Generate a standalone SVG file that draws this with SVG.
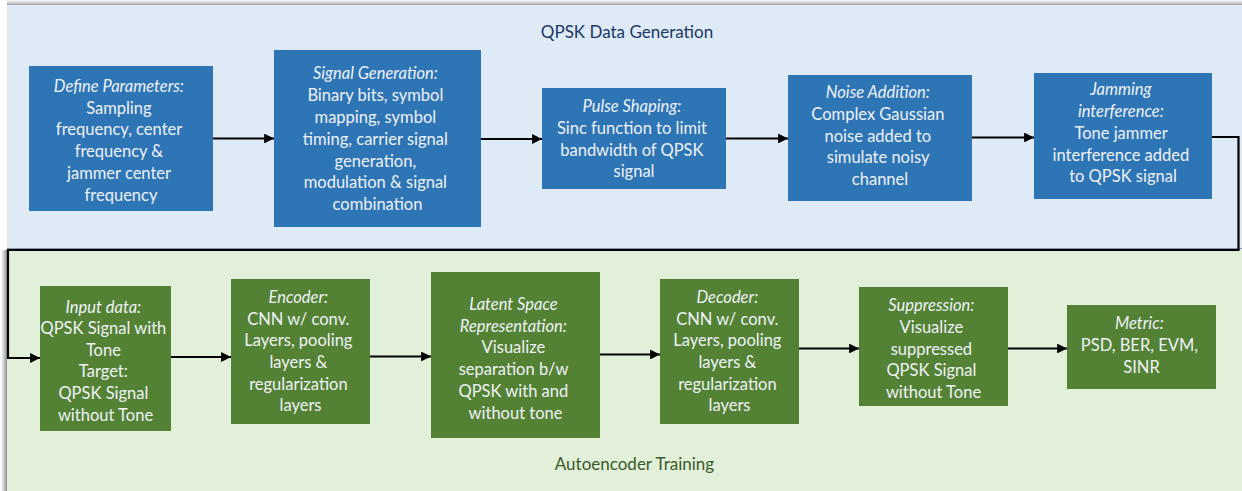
<svg xmlns="http://www.w3.org/2000/svg" width="1242" height="491" viewBox="0 0 1242 491">
  <defs>
    <linearGradient id="topShade" x1="0" y1="0" x2="0" y2="1">
      <stop offset="0" stop-color="#ffffff"/>
      <stop offset="0.5" stop-color="#c8c8c8"/>
      <stop offset="1" stop-color="#8c8c8c"/>
    </linearGradient>
    <linearGradient id="leftShade" x1="0" y1="0" x2="1" y2="0">
      <stop offset="0" stop-color="#ffffff"/>
      <stop offset="0.5" stop-color="#c8c8c8"/>
      <stop offset="1" stop-color="#8c8c8c"/>
    </linearGradient>
    <marker id="arrow" viewBox="0 0 10 10" refX="10" refY="5" markerWidth="4.5" markerHeight="4.5" markerUnits="strokeWidth" orient="auto">
      <path d="M0,0 L10,5 L0,10 z" fill="#000"/>
    </marker>
  </defs>
  <style>
    .blue { fill: #2E75B6; }
    .green { fill: #548235; }
    .lbl { font-family: Lato, "Liberation Sans", sans-serif; font-size: 16.5px; fill: #EEF2F6; text-anchor: middle; }
    .it { font-style: italic; }
    .title { font-family: Lato, "Liberation Sans", sans-serif; font-size: 17px; text-anchor: middle; }
    .wire { fill: none; stroke: #000; stroke-width: 2.2; }
  </style>

  <rect x="0" y="0" width="1242" height="491" fill="#ffffff"/>

  <!-- panel backgrounds -->
  <g id="panel-generation">
    <rect x="7" y="0" width="1235" height="6" fill="url(#topShade)"/>
    <rect x="7" y="5" width="1235" height="245" fill="#DEEBF7"/>
    <line x1="7" y1="248.5" x2="1242" y2="248.5" stroke="#8497B0" stroke-width="1"/>
    <text class="title" x="627" y="38" fill="#203864">QPSK Data Generation</text>
  </g>
  <g id="panel-training">
    <rect x="1" y="250" width="6" height="241" fill="url(#leftShade)"/>
    <rect x="7" y="250" width="1235" height="241" fill="#E2F0D9"/>
    <text class="title" x="634.5" y="470" fill="#3A5A2A">Autoencoder Training</text>
  </g>

  <!-- connectors -->
  <g id="connectors">
    <line class="wire" x1="213" y1="138.5" x2="274" y2="138.5" marker-end="url(#arrow)"/>
    <line class="wire" x1="481" y1="139" x2="542" y2="139" marker-end="url(#arrow)"/>
    <line class="wire" x1="726" y1="138.5" x2="788" y2="138.5" marker-end="url(#arrow)"/>
    <line class="wire" x1="972" y1="137.5" x2="1034" y2="137.5" marker-end="url(#arrow)"/>
    <polyline class="wire" points="1212,137 1238.5,137 1238.5,250 8,250 8,358 40,358" marker-end="url(#arrow)"/>
    <line class="wire" x1="171" y1="357" x2="231" y2="357" marker-end="url(#arrow)"/>
    <line class="wire" x1="370" y1="356.5" x2="431" y2="356.5" marker-end="url(#arrow)"/>
    <line class="wire" x1="600" y1="354.5" x2="660" y2="354.5" marker-end="url(#arrow)"/>
    <line class="wire" x1="799" y1="348.5" x2="859" y2="348.5" marker-end="url(#arrow)"/>
    <line class="wire" x1="1008" y1="348.5" x2="1067" y2="348.5" marker-end="url(#arrow)"/>
  </g>

  <!-- generation stages -->
  <g id="define-parameters">
    <rect class="blue" x="29" y="66" width="184" height="145"/>
    <text class="lbl" x="121">
      <tspan class="it" x="121" y="92">Define Parameters:</tspan>
      <tspan x="121" y="113.5">Sampling</tspan>
      <tspan x="121" y="135">frequency, center</tspan>
      <tspan x="121" y="157">frequency &amp;</tspan>
      <tspan x="121" y="179">jammer center</tspan>
      <tspan x="121" y="200.5">frequency</tspan>
    </text>
  </g>
  <g id="signal-generation">
    <rect class="blue" x="274" y="50" width="207" height="177"/>
    <text class="lbl" x="377.5">
      <tspan class="it" x="377.5" y="79">Signal Generation:</tspan>
      <tspan x="377.5" y="101">Binary bits, symbol</tspan>
      <tspan x="377.5" y="123">mapping, symbol</tspan>
      <tspan x="377.5" y="144.5">timing, carrier signal</tspan>
      <tspan x="377.5" y="166.5">generation,</tspan>
      <tspan x="377.5" y="188">modulation &amp; signal</tspan>
      <tspan x="377.5" y="210">combination</tspan>
    </text>
  </g>
  <g id="pulse-shaping">
    <rect class="blue" x="542" y="88" width="184" height="101"/>
    <text class="lbl" x="634">
      <tspan class="it" x="634" y="112">Pulse Shaping:</tspan>
      <tspan x="634" y="133.5">Sinc function to limit</tspan>
      <tspan x="634" y="155.5">bandwidth of QPSK</tspan>
      <tspan x="634" y="177">signal</tspan>
    </text>
  </g>
  <g id="noise-addition">
    <rect class="blue" x="788" y="75" width="184" height="126"/>
    <text class="lbl" x="880">
      <tspan class="it" x="880" y="98">Noise Addition:</tspan>
      <tspan x="880" y="120">Complex Gaussian</tspan>
      <tspan x="880" y="141.5">noise added to</tspan>
      <tspan x="880" y="163">simulate noisy</tspan>
      <tspan x="880" y="185">channel</tspan>
    </text>
  </g>
  <g id="jamming-interference">
    <rect class="blue" x="1034" y="73" width="178" height="126"/>
    <text class="lbl" x="1123">
      <tspan class="it" x="1123" y="95">Jamming</tspan>
      <tspan class="it" x="1123" y="117">interference:</tspan>
      <tspan x="1123" y="138.5">Tone jammer</tspan>
      <tspan x="1123" y="160.5">interference added</tspan>
      <tspan x="1123" y="182">to QPSK signal</tspan>
    </text>
  </g>

  <!-- training stages -->
  <g id="input-data">
    <rect class="green" x="40" y="286" width="131" height="145"/>
    <text class="lbl" x="105.5">
      <tspan class="it" x="105.5" y="312.5">Input data:</tspan>
      <tspan x="105.5" y="334">QPSK Signal with</tspan>
      <tspan x="105.5" y="355.5">Tone</tspan>
      <tspan x="105.5" y="377">Target:</tspan>
      <tspan x="105.5" y="398.5">QPSK Signal</tspan>
      <tspan x="105.5" y="420.5">without Tone</tspan>
    </text>
  </g>
  <g id="encoder">
    <rect class="green" x="231" y="279" width="139" height="145"/>
    <text class="lbl" x="300.5">
      <tspan class="it" x="300.5" y="302.5">Encoder:</tspan>
      <tspan x="300.5" y="324.5">CNN w/ conv.</tspan>
      <tspan x="300.5" y="346">Layers, pooling</tspan>
      <tspan x="300.5" y="367.5">layers &amp;</tspan>
      <tspan x="300.5" y="389.5">regularization</tspan>
      <tspan x="300.5" y="411">layers</tspan>
    </text>
  </g>
  <g id="latent-space">
    <rect class="green" x="431" y="272" width="169" height="166"/>
    <text class="lbl" x="515.5">
      <tspan class="it" x="515.5" y="309.5">Latent Space</tspan>
      <tspan class="it" x="515.5" y="331.5">Representation:</tspan>
      <tspan x="515.5" y="353">Visualize</tspan>
      <tspan x="515.5" y="375">separation b/w</tspan>
      <tspan x="515.5" y="396.5">QPSK with and</tspan>
      <tspan x="515.5" y="418.5">without tone</tspan>
    </text>
  </g>
  <g id="decoder">
    <rect class="green" x="660" y="279" width="139" height="145"/>
    <text class="lbl" x="729.5">
      <tspan class="it" x="729.5" y="302.5">Decoder:</tspan>
      <tspan x="729.5" y="324.5">CNN w/ conv.</tspan>
      <tspan x="729.5" y="346">Layers, pooling</tspan>
      <tspan x="729.5" y="367.5">layers &amp;</tspan>
      <tspan x="729.5" y="389.5">regularization</tspan>
      <tspan x="729.5" y="411">layers</tspan>
    </text>
  </g>
  <g id="suppression">
    <rect class="green" x="859" y="287" width="149" height="119"/>
    <text class="lbl" x="933.5">
      <tspan class="it" x="933.5" y="311">Suppression:</tspan>
      <tspan x="933.5" y="332.5">Visualize</tspan>
      <tspan x="933.5" y="354.5">suppressed</tspan>
      <tspan x="933.5" y="376">QPSK Signal</tspan>
      <tspan x="933.5" y="398">without Tone</tspan>
    </text>
  </g>
  <g id="metric">
    <rect class="green" x="1067" y="305" width="149" height="84"/>
    <text class="lbl" x="1141.5">
      <tspan class="it" x="1141.5" y="329">Metric:</tspan>
      <tspan x="1141.5" y="350.5">PSD, BER, EVM,</tspan>
      <tspan x="1141.5" y="372.5">SINR</tspan>
    </text>
  </g>
</svg>
